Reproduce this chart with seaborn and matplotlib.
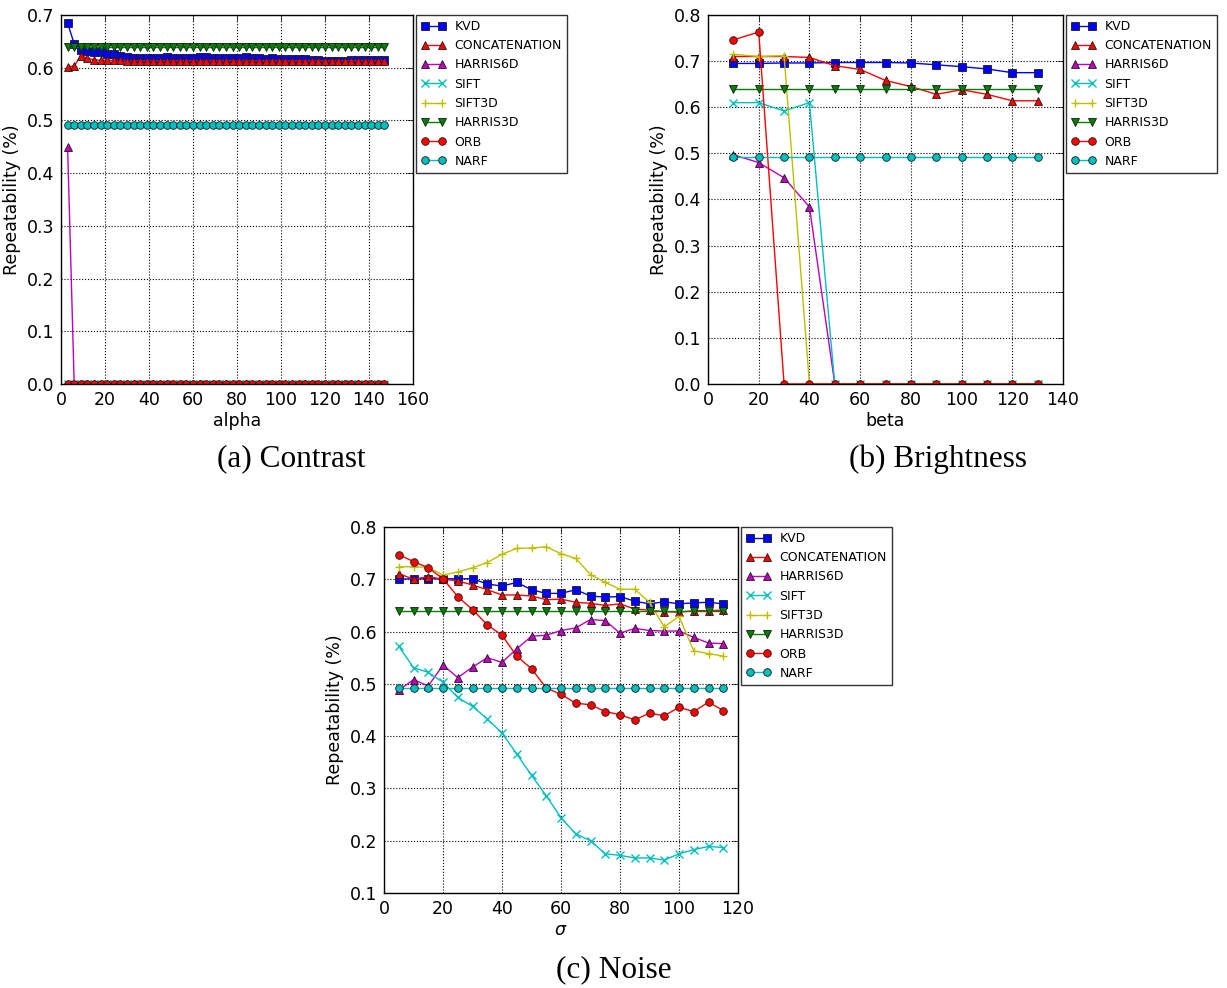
import numpy as np
import pandas as pd
import matplotlib
matplotlib.use("Agg")
import matplotlib.pyplot as plt
import seaborn as sns

# ---------------- data ----------------
methods = ["KVD", "CONCATENATION", "HARRIS6D", "SIFT", "SIFT3D", "HARRIS3D", "ORB", "NARF"]
colors = ["#0000ff", "#ff0000", "#bf00bf", "#00bfbf", "#bfbf00", "#008000", "#ff0000", "#00bfbf"]
markers = ["s", "^", "^", "x", "+", "v", "o", "o"]

# (a) Contrast
alpha = list(range(3, 148, 3))  # 49 values
a_kvd = [0.685, 0.645, 0.633, 0.632, 0.630, 0.630, 0.626, 0.626, 0.623, 0.621,
         0.619, 0.618, 0.618, 0.618, 0.619, 0.620, 0.619, 0.618, 0.618, 0.619,
         0.620, 0.620, 0.618, 0.618, 0.618, 0.619, 0.619, 0.620, 0.619, 0.618,
         0.617, 0.618, 0.617, 0.617, 0.616, 0.616, 0.617, 0.615, 0.615, 0.613,
         0.612, 0.613, 0.612, 0.614, 0.615, 0.615, 0.615, 0.615, 0.615]
a_concat = [0.602, 0.603, 0.623, 0.618, 0.615, 0.614, 0.614, 0.614, 0.614, 0.613,
            0.613, 0.613, 0.613, 0.613, 0.613, 0.613, 0.613, 0.613, 0.613, 0.613,
            0.613, 0.613, 0.613, 0.613, 0.613, 0.613, 0.613, 0.613, 0.613, 0.613,
            0.613, 0.613, 0.613, 0.613, 0.613, 0.613, 0.613, 0.613, 0.613, 0.613,
            0.613, 0.613, 0.613, 0.613, 0.613, 0.613, 0.613, 0.613, 0.613]
a_harris6d = [0.45] + [0.0] * 48
a_sift = [0.0] * 49
a_sift3d = [0.0] * 49
a_harris3d = [0.64] * 49
a_orb = [0.0] * 49
a_narf = [0.492] * 49

# (b) Brightness
beta = [10, 20, 30, 40, 50, 60, 70, 80, 90, 100, 110, 120, 130]
b_kvd = [0.695, 0.695, 0.696, 0.696, 0.697, 0.697, 0.697, 0.696, 0.692, 0.688, 0.683, 0.675, 0.675]
b_concat = [0.710, 0.710, 0.710, 0.708, 0.690, 0.682, 0.658, 0.645, 0.628, 0.638, 0.628, 0.614, 0.614]
b_harris6d = [0.497, 0.480, 0.447, 0.384, 0.0, 0.0, 0.0, 0.0, 0.0, 0.0, 0.0, 0.0, 0.0]
b_sift = [0.610, 0.610, 0.592, 0.610, 0.0, 0.0, 0.0, 0.0, 0.0, 0.0, 0.0, 0.0, 0.0]
b_sift3d = [0.715, 0.710, 0.712, 0.0, 0.0, 0.0, 0.0, 0.0, 0.0, 0.0, 0.0, 0.0, 0.0]
b_harris3d = [0.639] * 13
b_orb = [0.746, 0.763, 0.0, 0.0, 0.0, 0.0, 0.0, 0.0, 0.0, 0.0, 0.0, 0.0, 0.0]
b_narf = [0.492] * 13

# (c) Noise
sigma = list(range(5, 116, 5))  # 23 values
c_kvd = [0.700, 0.701, 0.701, 0.701, 0.701, 0.701, 0.691, 0.687, 0.694, 0.680,
         0.673, 0.673, 0.680, 0.668, 0.666, 0.667, 0.658, 0.653, 0.657, 0.653,
         0.655, 0.656, 0.653]
c_concat = [0.711, 0.700, 0.705, 0.700, 0.697, 0.689, 0.680, 0.670, 0.670, 0.668,
            0.661, 0.662, 0.656, 0.654, 0.650, 0.653, 0.643, 0.641, 0.638, 0.637,
            0.640, 0.640, 0.641]
c_harris6d = [0.488, 0.508, 0.496, 0.536, 0.512, 0.532, 0.550, 0.541, 0.567, 0.591,
              0.593, 0.602, 0.607, 0.623, 0.621, 0.597, 0.606, 0.602, 0.601, 0.601,
              0.589, 0.578, 0.577]
c_sift = [0.572, 0.531, 0.522, 0.503, 0.474, 0.457, 0.433, 0.406, 0.366, 0.325,
          0.286, 0.244, 0.213, 0.200, 0.175, 0.172, 0.167, 0.167, 0.163, 0.175,
          0.183, 0.189, 0.187]
c_sift3d = [0.724, 0.724, 0.723, 0.708, 0.714, 0.722, 0.732, 0.748, 0.759, 0.760,
            0.762, 0.749, 0.740, 0.709, 0.694, 0.681, 0.681, 0.656, 0.609, 0.629,
            0.563, 0.558, 0.553]
c_harris3d = [0.639] * 23
c_orb = [0.747, 0.734, 0.722, 0.701, 0.667, 0.642, 0.613, 0.593, 0.553, 0.529,
         0.492, 0.480, 0.463, 0.460, 0.447, 0.441, 0.431, 0.444, 0.439, 0.455,
         0.447, 0.465, 0.449]
c_narf = [0.492] * 23

# ---------------- style ----------------
sns.set_theme(style="white")
plt.rcParams.update({
    "font.family": ["DejaVu Sans"],
    "text.color": "black", "axes.labelcolor": "black",
    "xtick.direction": "in", "ytick.direction": "in",
    "xtick.top": True, "ytick.right": True,
    "xtick.major.size": 4, "ytick.major.size": 4,
    "xtick.major.width": 0.5, "ytick.major.width": 0.5,
    "xtick.labelsize": 12.5, "ytick.labelsize": 12.5,
    "axes.labelsize": 12.5,
    "axes.edgecolor": "black", "axes.linewidth": 1.0,
    "xtick.color": "black", "ytick.color": "black",
    "xtick.major.pad": 5, "ytick.major.pad": 5,
    "axes.labelpad": 2,
})

fig = plt.figure(figsize=(12.27, 9.88), dpi=100)

def panel(rect, x, series, xlim, xticks, ylim, yticks, xlabel, caption, cap_xy):
    ax = fig.add_axes(rect)
    for name, y, c, m in zip(methods, series, colors, markers):
        df = pd.DataFrame({"x": x, "y": y})
        line_marker = m not in ("x", "+")
        sns.lineplot(data=df, x="x", y="y", ax=ax, color=c, marker=m,
                     markersize=(5.5 if line_marker else 6.0),
                     markeredgecolor=("k" if line_marker else c),
                     markeredgewidth=(0.6 if line_marker else 1.0),
                     linewidth=1.0, label=name, errorbar=None)
    ax.set_xlim(*xlim)
    ax.set_ylim(*ylim)
    ax.set_xticks(xticks)
    ax.set_yticks(yticks)
    ax.set_yticklabels([f"{v:.1f}" for v in yticks])
    ax.grid(True, linestyle=":", color="black", linewidth=0.8)
    ax.set_xlabel(xlabel)
    ax.set_ylabel("Repeatability (%)", labelpad=4)
    leg = ax.legend(loc="upper left", bbox_to_anchor=(1.008, 1.0), borderaxespad=0,
                    fontsize=9, numpoints=2, frameon=True, fancybox=False,
                    handlelength=2.0, labelspacing=0.5, borderpad=0.4,
                    handletextpad=0.7)
    leg.get_frame().set_edgecolor("black")
    leg.get_frame().set_linewidth(1.0)
    for t in leg.get_texts():
        t.set_color("black")
    fig.text(cap_xy[0] / 1227, 1 - cap_xy[1] / 988, caption, ha="center", va="center",
             fontsize=22.5, family="Liberation Serif", color="black")
    return ax

yt8 = [round(0.1 * i, 1) for i in range(9)]
panel([61 / 1227, 1 - 384 / 988, 352 / 1227, 369 / 988], alpha,
      [a_kvd, a_concat, a_harris6d, a_sift, a_sift3d, a_harris3d, a_orb, a_narf],
      (0, 160), list(range(0, 161, 20)), (0, 0.7), yt8[:8], "alpha",
      "(a) Contrast", (291, 459))
panel([708 / 1227, 1 - 384 / 988, 355 / 1227, 369 / 988], beta,
      [b_kvd, b_concat, b_harris6d, b_sift, b_sift3d, b_harris3d, b_orb, b_narf],
      (0, 140), list(range(0, 141, 20)), (0, 0.8), yt8, "beta",
      "(b) Brightness", (938, 459))
panel([384 / 1227, 1 - 893 / 988, 354 / 1227, 366 / 988], sigma,
      [c_kvd, c_concat, c_harris6d, c_sift, c_sift3d, c_harris3d, c_orb, c_narf],
      (0, 120), list(range(0, 121, 20)), (0.1, 0.8), yt8[1:], r"$\sigma$",
      "(c) Noise", (614, 970))

fig.savefig("out.png", dpi=100, facecolor="white")
